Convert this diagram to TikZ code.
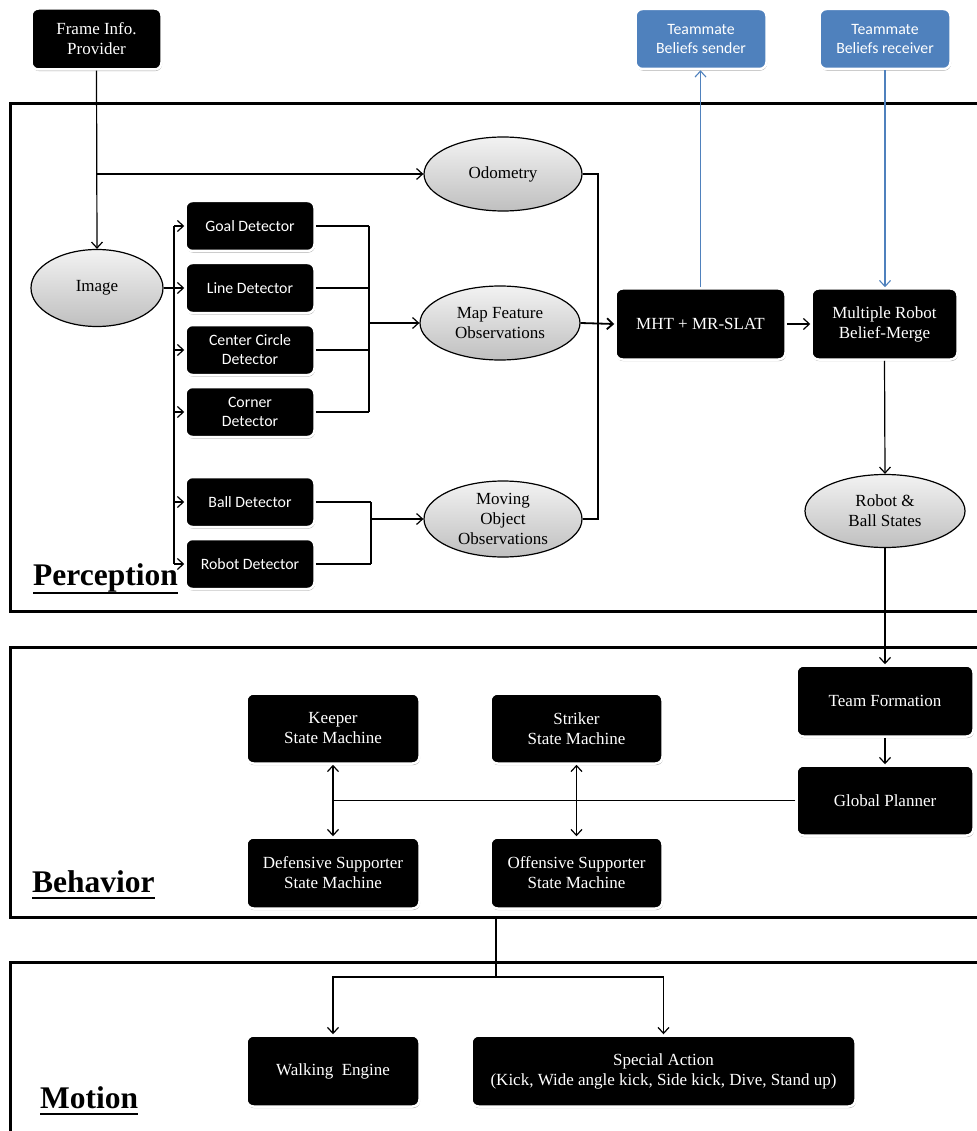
\documentclass[tikz,border=0pt]{standalone}
\usepackage{fontspec}
\setmainfont{Liberation Serif}
\newfontfamily\calfont{Carlito}
\usetikzlibrary{arrows.meta,shapes.geometric,shadows,calc}
\definecolor{tmblue}{HTML}{4F81BD}
\tikzset{
  blk/.style={rectangle, rounded corners=7pt, fill=black, draw=white, line width=2.5pt,
    text=white, align=center, inner sep=1pt,
    font=\fontsize{17}{20}\selectfont,
    drop shadow={shadow xshift=0.6pt, shadow yshift=-1.6pt, opacity=0.35, fill=black}},
  det/.style={blk, minimum width=129pt, minimum height=50pt,
    font=\calfont\fontsize{15.8}{19}\selectfont},
  tm/.style={blk, fill=tmblue, minimum width=131pt, minimum height=60pt,
    font=\calfont\fontsize{15.8}{19}\selectfont},
  ell/.style={ellipse, draw=black, line width=1.2pt, inner sep=0pt, align=center,
    top color=white!95!black, bottom color=black!25,
    font=\fontsize{17}{20}\selectfont},
  conn/.style={line width=1.2pt, draw=black},
  arr/.style={conn, -{Straight Barb[length=6pt,width=11pt,line width=1.2pt]}},
  arrb/.style={line width=1.8pt, -{Straight Barb[length=6pt,width=11pt,line width=1.8pt]}},
  darr/.style={conn, {Straight Barb[length=6pt,width=11pt,line width=1.2pt]}-{Straight Barb[length=6pt,width=11pt,line width=1.2pt]}},
  barr/.style={line width=1.1pt, draw=tmblue, -{Straight Barb[length=6pt,width=11pt,line width=1.1pt]}},
  frame/.style={line width=3pt, draw=black},
  head/.style={inner sep=0pt, anchor=base west, font=\fontsize{31.5}{36}\selectfont\bfseries},
  uline/.style={line width=1.6pt}
}
\begin{document}
\begin{tikzpicture}[x=1pt,y=-1pt]
\useasboundingbox (0,0) rectangle (976,1131);
% frames
\draw[frame] (977,104) -- (10,104) -- (10,611) -- (977,611);
\draw[frame] (977,647) -- (10,647) -- (10,917) -- (977,917);
\draw[frame] (977,962) -- (10,962) -- (10,1132);

% headings
\node[head] (perc) at (33,585) {Perception};
\node[head] (behv) at (32,892) {Behavior};
\node[head] (motn) at (40,1108) {Motion};
\draw[uline] ($(perc.base west)+(0,8)$) -- ($(perc.base east)+(0,8)$);
\draw[uline] ($(behv.base west)+(0,6)$) -- ($(behv.base east)+(0,6)$);
\draw[uline] ($(motn.base west)+(0,6)$) -- ($(motn.base east)+(0,6)$);

% top nodes
\node[blk, minimum width=130pt, minimum height=61pt] (fip) at (96.5,39) {Frame Info.\\Provider};
\node[tm] (sender) at (701,39) {Teammate\\Beliefs sender};
\node[tm] (receiver) at (885,39) {Teammate\\Beliefs receiver};

% perception
\node[ell, minimum width=132pt, minimum height=77pt] (image) at (97,288) {Image};
\node[ell, minimum width=158pt, minimum height=74pt] (odo) at (503,174) {Odometry};
\node[ell, minimum width=160pt, minimum height=74pt] (map) at (500,323) {Map Feature\\Observations};
\node[ell, minimum width=158pt, minimum height=76pt] (mov) at (503,519) {Moving\\Object\\Observations};
\node[ell, minimum width=160pt, minimum height=73pt] (rbs) at (885,511) {Robot \&\\Ball States};

\node[det] (goal) at (250,226) {Goal Detector};
\node[det] (line) at (250,288) {Line Detector};
\node[det] (circ) at (250,350) {Center Circle\\Detector};
\node[det] (corn) at (250,412) {Corner\\Detector};
\node[det] (ball) at (250,502) {Ball Detector};
\node[det] (robo) at (250,564) {Robot Detector};

\node[blk, minimum width=170pt, minimum height=71pt] (mht) at (700.5,324) {MHT + MR-SLAT};
\node[blk, minimum width=146pt, minimum height=71pt] (mr) at (884.5,324) {Multiple Robot\\Belief-Merge};

% behavior
\node[blk, minimum width=177pt, minimum height=71pt] (tf) at (885,701) {Team Formation};
\node[blk, minimum width=177pt, minimum height=70pt] (gp) at (885,800.5) {Global Planner};
\node[blk, minimum width=173pt, minimum height=70pt] (keep) at (333,728.5) {Keeper\\State Machine};
\node[blk, minimum width=172pt, minimum height=70pt] (strk) at (576.5,728.5) {Striker\\State Machine};
\node[blk, minimum width=173pt, minimum height=71pt] (def) at (333,873) {Defensive Supporter\\State Machine};
\node[blk, minimum width=172pt, minimum height=71pt] (off) at (576.5,873) {Offensive Supporter\\State Machine};

% motion
\node[blk, minimum width=173pt, minimum height=71pt] (walk) at (333,1071) {Walking\ \ Engine};
\node[blk, minimum width=384pt, minimum height=71pt] (spec) at (663.5,1071) {Special Action\\(Kick, Wide angle kick, Side kick, Dive, Stand up)};

% coordinates
\coordinate (busL) at (174,0);
\coordinate (busM) at (369,0);
\coordinate (busB) at (371,0);
\coordinate (busR) at (598,0);
\coordinate (bb) at (496,917);
\coordinate (mj) at (496,977);

% connectors
\draw[arr] (fip.south) -- (image.north);
\draw[arr] (fip.south |- odo.west) -- (odo.west);
\draw[conn] (image.east) -- (busL |- image.east);
\draw[conn] (busL |- goal.west) -- (busL |- robo.west);
\foreach \d in {goal,line,circ,corn,ball,robo}
  \draw[arr] (busL |- \d.west) -- (\d.west);
\foreach \d in {goal,line,circ,corn}
  \draw[conn] (\d.east) -- (busM |- \d.east);
\draw[conn] (busM |- goal.east) -- (busM |- corn.east);
\draw[arr] (busM |- map.west) -- (map.west);
\foreach \d in {ball,robo}
  \draw[conn] (\d.east) -- (busB |- \d.east);
\draw[conn] (busB |- ball.east) -- (busB |- robo.east);
\draw[arr] (busB |- mov.west) -- (mov.west);
\draw[conn] (odo.east) -- (busR |- odo.east) -- (busR |- mov.east) -- (mov.east);
\draw[arrb] (map.east) -- (mht.west);
\draw[arr] (mht.east) -- (mr.west);
\draw[barr] (mht.north) -- (mht.north |- sender.south);
\draw[barr] (receiver.south) -- (receiver.south |- mr.north);
\draw[arr] (mr.south) -- (rbs.north);
\draw[arr] (rbs.south) -- (tf.north);
\draw[arr] (tf.south) -- (gp.north);
\draw[conn] (gp.west) -- (keep.south |- gp.west);
\draw[darr] (keep.south) -- (def.north);
\draw[darr] (strk.south) -- (off.north);
\draw[conn] (bb) -- (mj);
\draw[arr] (mj) -| (walk.north);
\draw[arr] (mj) -| (spec.north);
\end{tikzpicture}
\end{document}
